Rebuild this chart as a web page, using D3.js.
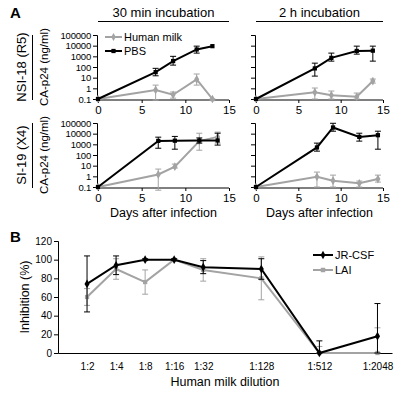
<!DOCTYPE html>
<html>
<head>
<meta charset="utf-8">
<script src="https://cdn.jsdelivr.net/npm/d3@7"></script>
<style>
  body { margin: 0; background: #fff; }
  svg { font-family: "Liberation Sans", Arial, sans-serif; }
</style>
</head>
<body>
<div id="chart"></div>
<script>
'use strict';

// ---- data: panel A (CA-p24, ng/ml) ----
const logTicks = [0.1, 1, 10, 100, 1000, 10000, 100000];
const dayTicks = [0, 5, 10, 15];

// NSI-18, 30 min
const nsi30Days = [0, 6.6, 8.6, 11.3, 13.1];
const nsi30Pbs = [0.1, 33, 360, 4400, 9000];
const nsi30PbsLo = [0.1, 15, 150, 2000, 9000];
const nsi30PbsHi = [0.1, 75, 1000, 9000, 9000];
const nsi30Milk = [0.1, 0.7, 0.25, 7, 0.1];
const nsi30MilkLo = [0.1, 0.08, 0.12, 2, 0.07];
const nsi30MilkHi = [0.1, 2, 0.45, 22, 0.1];

// NSI-18, 2 h
const nsi2hDays = [0, 6.95, 8.9, 11.9, 13.8];
const nsi2hPbs = [0.1, 74, 720, 3200, 3400];
const nsi2hPbsLo = [0.1, 14, 355, 1600, 355];
const nsi2hPbsHi = [0.1, 230, 2000, 9000, 9000];
const nsi2hMilk = [0.1, 0.42, 0.23, 0.16, 4.8];
const nsi2hMilkLo = [0.1, 0.1, 0.1, 0.1, 3.1];
const nsi2hMilkHi = [0.1, 1.07, 0.56, 0.36, 7.4];

// SI-19, 30 min
const si30Days = [0, 6.9, 8.8, 11.6, 13.7];
const si30Pbs = [0.1, 2100, 2200, 2300, 2300];
const si30PbsLo = [0.1, 430, 350, 1300, 850];
const si30PbsHi = [0.1, 4700, 5500, 4000, 11000];
const si30Milk = [0.1, 1.5, 8, 2000, 5000];
const si30MilkLo = [0.1, 0.05, 6, 280, 1300];
const si30MilkHi = [0.1, 4.8, 14, 11000, 14000];

// SI-19, 2 h
const si2hDays = [0, 7.2, 9.1, 12.2, 14.4];
const si2hPbs = [0.1, 510, 38000, 5000, 7200];
const si2hPbsLo = [0.1, 230, 17000, 2000, 350];
const si2hPbsHi = [0.1, 1300, 94000, 11000, 17000];
const si2hMilk = [0.1, 0.9, 0.39, 0.22, 0.56];
const si2hMilkLo = [0.1, 0.1, 0.1, 0.1, 0.29];
const si2hMilkHi = [0.1, 2.5, 1.3, 0.36, 1.3];

// ---- data: panel B (inhibition %) ----
const dilutions = ['1:2', '1:4', '1:8', '1:16', '1:32', '1:128', '1:512', '1:2048'];
const dilutionLog2 = [1, 2, 3, 4, 5, 7, 9, 11];
const jrcsf = [74, 94, 100, 100, 92, 90, 0, 18];
const jrcsfErr = [30, 10, 1, 1, 7, 11, 13, 35];
const lai = [60, 90, 76, 100, 89, 80, 0, 0];
const laiErr = [9, 11, 13, 1, 12, 23, 7, 27];
const inhibTicks = [0, 20, 40, 60, 80, 100, 120];

const BLACK = '#000';
const GREY = '#a3a3a3';

const svg = d3.select('#chart').append('svg')
    .attr('width', 400).attr('height', 393);

function drawSeries(g, x, y, days, vals, lo, hi, color, shape) {
    const pts = days.map((d, i) => ({ d, v: vals[i], lo: lo[i], hi: hi[i] }));
    const eb = g.append('g').attr('stroke', color).attr('stroke-width', 1);
    pts.forEach(p => {
        if (p.lo === p.hi) return;
        const xx = x(p.d);
        eb.append('line').attr('x1', xx).attr('x2', xx).attr('y1', y(p.lo)).attr('y2', y(p.hi));
        eb.append('line').attr('x1', xx - 3).attr('x2', xx + 3).attr('y1', y(p.lo)).attr('y2', y(p.lo));
        eb.append('line').attr('x1', xx - 3).attr('x2', xx + 3).attr('y1', y(p.hi)).attr('y2', y(p.hi));
    });
    g.append('path').datum(pts)
        .attr('fill', 'none').attr('stroke', color).attr('stroke-width', 2)
        .attr('d', d3.line().x(p => x(p.d)).y(p => y(p.v)));
    g.append('g').selectAll('path').data(pts).join('path')
        .attr('transform', p => `translate(${x(p.d)},${y(p.v)})`)
        .attr('fill', color)
        .attr('d', d3.symbol().type(shape).size(shape === d3.symbolDiamond ? 22 : 18));
}

function styleAxis(ax, fontSize) {
    ax.selectAll('path, line').attr('stroke', BLACK).attr('stroke-width', 1);
    ax.selectAll('text').attr('fill', BLACK).style('font-size', fontSize + 'px');
}

// ---- panel A ----
const xLeft = d3.scaleLinear().domain([0, 15]).range([98, 229]);
const xRight = d3.scaleLinear().domain([0, 15]).range([256, 383]);
const yTop = d3.scaleLog().domain([0.1, 100000]).range([99, 35]);
const yBot = d3.scaleLog().domain([0.1, 100000]).range([187, 123]);

const panels = [
    { x: xLeft, y: yTop, labels: true, days: nsi30Days, pbs: [nsi30Pbs, nsi30PbsLo, nsi30PbsHi], milk: [nsi30Milk, nsi30MilkLo, nsi30MilkHi] },
    { x: xRight, y: yTop, labels: false, days: nsi2hDays, pbs: [nsi2hPbs, nsi2hPbsLo, nsi2hPbsHi], milk: [nsi2hMilk, nsi2hMilkLo, nsi2hMilkHi] },
    { x: xLeft, y: yBot, labels: true, days: si30Days, pbs: [si30Pbs, si30PbsLo, si30PbsHi], milk: [si30Milk, si30MilkLo, si30MilkHi] },
    { x: xRight, y: yBot, labels: false, days: si2hDays, pbs: [si2hPbs, si2hPbsLo, si2hPbsHi], milk: [si2hMilk, si2hMilkLo, si2hMilkHi] }
];

panels.forEach(p => {
    const g = svg.append('g');
    const y0 = p.y.range()[0];
    const x0 = p.x.range()[0];
    const yAx = g.append('g').attr('transform', `translate(${x0 - 1},0)`)
        .call(d3.axisLeft(p.y).tickValues(logTicks).tickSize(4).tickPadding(2)
            .tickFormat(p.labels ? d => String(d) : ''));
    styleAxis(yAx, 9.5);
    yAx.selectAll('text').attr('letter-spacing', '-0.2');
    const xAx = g.append('g').attr('transform', `translate(0,${y0 + 1})`)
        .call(d3.axisBottom(p.x).tickValues(dayTicks).tickSize(3).tickPadding(3).tickSizeOuter(0));
    styleAxis(xAx, 11.5);
    xAx.select('.domain').attr('d', `M${x0 - 1},0H${p.x.range()[1]}`);
    drawSeries(g, p.x, p.y, p.days, p.milk[0], p.milk[1], p.milk[2], GREY, d3.symbolDiamond);
    drawSeries(g, p.x, p.y, p.days, p.pbs[0], p.pbs[1], p.pbs[2], BLACK, d3.symbolSquare);
});

// panel A labels
svg.append('text').attr('x', 10).attr('y', 18).attr('font-weight', 'bold').style('font-size', '15px').text('A');
svg.append('text').attr('x', 10).attr('y', 242).attr('font-weight', 'bold').style('font-size', '15px').text('B');

[[xLeft, '30 min incubation'], [xRight, '2 h incubation']].forEach(([x, t]) => {
    const [a, b] = x.range();
    svg.append('text').attr('x', (a + b) / 2).attr('y', 17).attr('text-anchor', 'middle')
        .style('font-size', '13px').text(t);
    svg.append('line').attr('x1', a).attr('x2', b).attr('y1', 21.5).attr('y2', 21.5)
        .attr('stroke', BLACK).attr('stroke-width', 1.2);
    svg.append('text').attr('x', (a + b) / 2).attr('y', 217).attr('text-anchor', 'middle')
        .style('font-size', '12.5px').text('Days after infection');
});

[[yTop, 'NSI-18 (R5)'], [yBot, 'SI-19 (X4)']].forEach(([y, t]) => {
    const [b, a] = y.range();
    const cy = (a + b) / 2;
    svg.append('text').attr('transform', `translate(26,${cy}) rotate(-90)`)
        .attr('text-anchor', 'middle').style('font-size', '13px').text(t);
    svg.append('line').attr('x1', 32.5).attr('x2', 32.5).attr('y1', a).attr('y2', b + 1)
        .attr('stroke', BLACK).attr('stroke-width', 1);
    svg.append('text').attr('transform', `translate(48,${cy}) rotate(-90)`)
        .attr('text-anchor', 'middle').style('font-size', '11.5px').text('CA-p24 (ng/ml)');
});

// panel A legend
const legA = svg.append('g');
[['Human milk', GREY, d3.symbolDiamond, 37], ['PBS', BLACK, d3.symbolSquare, 51]].forEach(([t, c, s, yy]) => {
    legA.append('line').attr('x1', 105).attr('x2', 122).attr('y1', yy).attr('y2', yy)
        .attr('stroke', c).attr('stroke-width', 2);
    legA.append('path').attr('transform', `translate(113.5,${yy})`).attr('fill', c)
        .attr('d', d3.symbol().type(s).size(18));
    legA.append('text').attr('x', 124).attr('y', yy + 4).style('font-size', '11px').text(t);
});

// ---- panel B ----
const xB = d3.scaleLinear().domain([0, 11.5]).range([58, 392]);
const yB = d3.scaleLinear().domain([0, 120]).range([353, 241]);

const gB = svg.append('g');
const yAxB = gB.append('g').attr('transform', 'translate(58,0)')
    .call(d3.axisLeft(yB).tickValues(inhibTicks).tickSize(4).tickPadding(2));
styleAxis(yAxB, 10);
const xAxB = gB.append('g').attr('transform', 'translate(0,353)')
    .call(d3.axisBottom(xB).tickValues(dilutionLog2).tickSize(0).tickPadding(10).tickSizeOuter(0)
        .tickFormat((d, i) => dilutions[i]));
styleAxis(xAxB, 10);

const laiLo = lai.map((v, i) => v - laiErr[i]);
const laiHi = lai.map((v, i) => v + laiErr[i]);
const jrLo = jrcsf.map((v, i) => Math.max(0, v - jrcsfErr[i]));
const jrHi = jrcsf.map((v, i) => v + jrcsfErr[i]);
drawSeries(gB, xB, yB, dilutionLog2, lai, laiLo.map(v => Math.max(0, v)), laiHi, GREY, d3.symbolSquare);
drawSeries(gB, xB, yB, dilutionLog2, jrcsf, jrLo, jrHi, BLACK, d3.symbolDiamond);

svg.append('text').attr('transform', `translate(29,${yB(60)}) rotate(-90)`)
    .attr('text-anchor', 'middle').style('font-size', '12.5px').text('Inhibition (%)');
svg.append('text').attr('x', 225).attr('y', 386).attr('text-anchor', 'middle')
    .style('font-size', '12.5px').text('Human milk dilution');

const legB = svg.append('g');
[['JR-CSF', BLACK, d3.symbolDiamond, 255], ['LAI', GREY, d3.symbolSquare, 270]].forEach(([t, c, s, yy]) => {
    legB.append('line').attr('x1', 313).attr('x2', 333).attr('y1', yy).attr('y2', yy)
        .attr('stroke', c).attr('stroke-width', 2);
    legB.append('path').attr('transform', `translate(323,${yy})`).attr('fill', c)
        .attr('d', d3.symbol().type(s).size(20));
    legB.append('text').attr('x', 335).attr('y', yy + 4).style('font-size', '11px').text(t);
});
</script>
</body>
</html>
